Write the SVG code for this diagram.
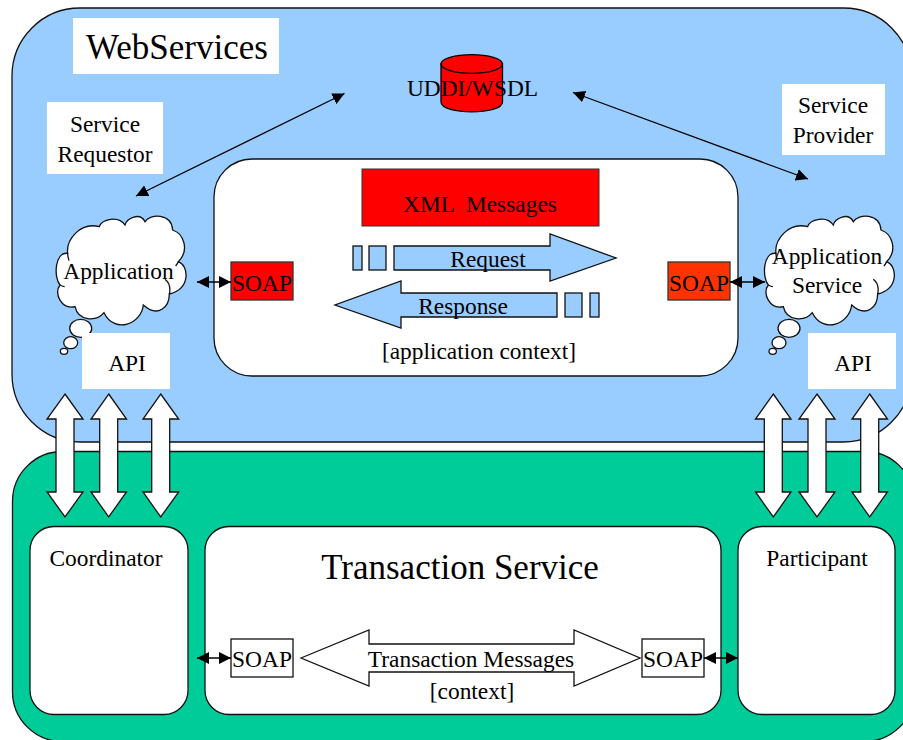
<svg xmlns="http://www.w3.org/2000/svg" width="903" height="740" viewBox="0 0 903 740">
<style>
text{font-family:"Liberation Serif","Times New Roman",serif;fill:#000;text-anchor:middle;font-size:23.4px}
.big{font-size:35px}
.s{fill:#fff;stroke:#111;stroke-width:1.3}
.b{fill:#99ccff;stroke:#111;stroke-width:1.3}
.l{fill:none;stroke:#000;stroke-width:1.3}
.w{fill:#fff;stroke:none}
.soap{stroke:#333;stroke-width:1.3}
.co{fill:#fff;stroke:#111;stroke-width:3.9}
.ci{fill:none;stroke:#111;stroke-width:3.9}
</style>
<defs>
<marker id="a" markerUnits="userSpaceOnUse" markerWidth="14" markerHeight="12" refX="12" refY="6" orient="auto-start-reverse"><path d="M0 0L12 6L0 12Z" fill="#000"/></marker>
<g id="cloud">
<path class="co" d="M113 190C108 150 150 95 208 110C215 88 265 75 285 105C290 85 330 65 345 95C360 70 425 70 428 120C460 130 480 180 445 215C475 225 485 295 418 312C418 350 385 385 340 345C335 400 255 435 222 368C200 395 145 395 135 350C95 360 70 310 90 285C70 260 75 185 113 190Z"/>
<path class="ci" d="M418 312C422 295 418 278 405 268M445 215C443 220 440 224 437 228M90 285C95 288 100 290 104 290M113 190C113 200 115 205 117 212"/>
</g>
</defs>
<g id="webservices"><rect x="12" y="8" width="899.500" height="434" rx="68" fill="#99ccff" stroke="#111" stroke-width="1.3"/></g>
<g id="transaction-band"><rect x="12.500" y="451.500" width="902" height="290" rx="50" fill="#00cc99" stroke="#111" stroke-width="1.3"/></g>
<g id="title"><rect class="w" x="73" y="18" width="206" height="56"/><text class="big" x="177" y="59">WebServices</text></g>
<g id="requestor"><rect class="w" x="47" y="102" width="116" height="72"/><text x="105" y="132">Service</text><text x="105" y="162">Requestor</text></g>
<g id="provider"><rect class="w" x="782" y="84" width="103" height="71"/><text x="833" y="113">Service</text><text x="833" y="143">Provider</text></g>
<g id="uddi"><path d="M441 64V102C441 115 502.500 115 502.500 102V64Z" fill="#f00" stroke="#000" stroke-width="1.3"/><ellipse cx="471.700" cy="64" rx="30.700" ry="9.300" fill="#f00" stroke="#000" stroke-width="1.3"/><text x="472.500" y="96">UDDI/WSDL</text></g>
<g id="context-panel"><rect class="s" x="214" y="159" width="524" height="217" rx="38"/><text x="479" y="359">[application context]</text></g>
<g id="xml"><rect x="362" y="169" width="237" height="57" fill="#f00" stroke="#333"/><text x="480" y="212" style="white-space:pre">XML  Messages</text></g>
<g id="request"><rect class="b" x="353" y="246" width="9" height="24"/><rect class="b" x="369" y="246" width="17" height="24"/><path class="b" d="M394 246H550V234L616 258L550 281V270H394Z"/><text x="488" y="267">Request</text></g>
<g id="response"><path class="b" d="M557 293H401V281L335 305L401 328V317H557Z"/><rect class="b" x="565" y="293" width="17" height="24"/><rect class="b" x="590" y="293" width="9" height="24"/><text x="463" y="314">Response</text></g>
<g id="soap-left"><rect class="soap" x="231" y="262" width="62" height="38" fill="#f00"/><text x="262" y="291">SOAP</text></g>
<g id="soap-right"><rect class="soap" x="668" y="262" width="62" height="38" fill="#ff3300"/><text x="699" y="291">SOAP</text></g>
<g id="cloud-left"><use href="#cloud" transform="translate(30 190) scale(.33333)"/><ellipse class="s" cx="80.700" cy="328.300" rx="11" ry="9"/><ellipse class="s" cx="70.700" cy="342.700" rx="7" ry="6"/><ellipse class="s" cx="64" cy="351.300" rx="3.700" ry="3"/><text x="118.500" y="279">Application</text></g>
<g id="cloud-right"><use href="#cloud" transform="translate(738.300 190) scale(.33333)"/><ellipse class="s" cx="789" cy="328.300" rx="11" ry="9"/><ellipse class="s" cx="779" cy="342.700" rx="7" ry="6"/><ellipse class="s" cx="772.700" cy="351.300" rx="3.700" ry="3"/><text x="827" y="264">Application</text><text x="827" y="293">Service</text></g>
<g id="api-left"><rect class="w" x="82" y="333" width="88" height="56"/><text x="127" y="371">API</text></g>
<g id="api-right"><rect class="w" x="808" y="333" width="88" height="56"/><text x="853" y="371">API</text></g>
<g id="coordinator"><rect class="s" x="30" y="526.500" width="158" height="188" rx="24"/><text x="106" y="566">Coordinator</text></g>
<g id="tx-service"><rect class="s" x="205" y="526.500" width="516" height="188" rx="24"/><text class="big" x="460" y="579">Transaction Service</text></g>
<g id="participant"><rect class="s" x="738" y="526.500" width="157" height="188" rx="24"/><text x="817" y="566">Participant</text></g>
<g id="tx-messages"><path class="s" d="M301 658L369 630V644H574V630L640 658L574 686V672H369V686Z"/><text x="471" y="667">Transaction Messages</text><text x="472" y="699">[context]</text></g>
<g id="soap-tx-left"><rect class="s" x="231" y="639" width="62" height="38"/><text x="262" y="667">SOAP</text></g>
<g id="soap-tx-right"><rect class="s" x="642" y="639" width="62" height="38"/><text x="673" y="667">SOAP</text></g>
<g id="connectors">
<line class="l" x1="136" y1="196" x2="344.500" y2="93.500" marker-start="url(#a)" marker-end="url(#a)"/>
<line class="l" x1="573" y1="92.500" x2="808" y2="179" marker-start="url(#a)" marker-end="url(#a)"/>
<line class="l" x1="197" y1="282" x2="231" y2="282" marker-start="url(#a)" marker-end="url(#a)"/>
<line class="l" x1="730" y1="282" x2="765" y2="282" marker-start="url(#a)" marker-end="url(#a)"/>
<line class="l" x1="197" y1="658" x2="231" y2="658" marker-start="url(#a)" marker-end="url(#a)"/>
<line class="l" x1="704" y1="658" x2="738" y2="658" marker-start="url(#a)" marker-end="url(#a)"/>
<path class="s" d="M65 394L83 419H74V492H83L65 517L47 492H56V419H47Z"/>
<path class="s" d="M108.700 394L126.500 419H117.700V492H126.500L108.700 517L91 492H99.700V419H91Z"/>
<path class="s" d="M160.700 394L178.700 419H169.700V492H178.700L160.700 517L143 492H151.700V419H143Z"/>
<path class="s" d="M773.300 394L791 419H782.300V492H791L773.300 517L755.500 492H764.300V419H755.500Z"/>
<path class="s" d="M817 394L835 419H826V492H835L817 517L799 492H808V419H799Z"/>
<path class="s" d="M869.700 394L887.500 419H878.700V492H887.500L869.700 517L852 492H860.700V419H852Z"/>
</g>
</svg>
